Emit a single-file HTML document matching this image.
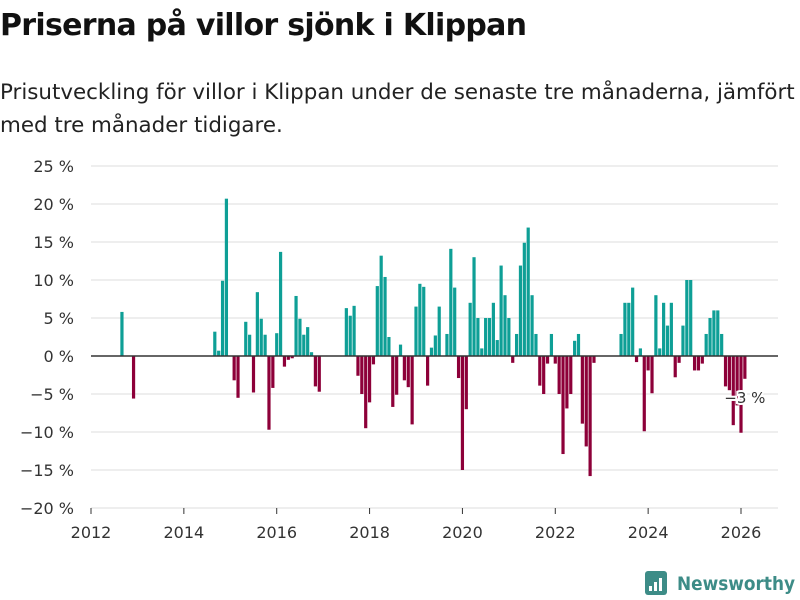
<!DOCTYPE html>
<html><head><meta charset="utf-8">
<style>
body{margin:0;background:#fff;font-family:"Liberation Sans","DejaVu Sans",sans-serif;}
#wrap{position:relative;width:800px;height:600px;overflow:hidden;background:#fff;}
h1{position:absolute;left:0;top:8px;margin:0;font-size:30px;font-weight:bold;color:#111;font-family:"DejaVu Sans","Liberation Sans",sans-serif;letter-spacing:-0.7px}
p.sub{position:absolute;left:0;top:76px;margin:0;font-size:21.4px;line-height:33px;color:#222;font-family:"DejaVu Sans","Liberation Sans",sans-serif;width:805px;letter-spacing:0px}
</style></head><body>
<div id="wrap">
<h1>Priserna på villor sjönk i Klippan</h1>
<p class="sub">Prisutveckling för villor i Klippan under de senaste tre månaderna, jämfört med tre månader tidigare.</p>
<svg id="chart" width="800" height="600" style="position:absolute;left:0;top:0"></svg>
</div>
<script>
const yTicks=[25,20,15,10,5,0,-5,-10,-15,-20];
const xTickYears=[2012,2014,2016,2018,2020,2022,2024,2026];
// monthly values, index 0 = Sep 2012 (null = no data)
const startIndex=8;
const values=[
5.8,null,null,-5.6,
null,null,null,null,null,null,null,null,null,null,null,null,null,null,null,null,null,null,null,null,
3.2,0.7,9.9,20.7,null,-3.2,-5.5,null,4.5,2.8,-4.8,8.4,4.9,2.8,-9.7,-4.2,3.0,13.7,-1.4,-0.5,-0.3,7.9,4.9,2.8,3.8,0.5,-4.0,-4.7,
null,null,null,null,null,null,
6.3,5.3,6.6,-2.6,-5.0,-9.5,-6.1,-1.1,9.2,13.2,10.4,2.5,-6.7,-5.1,1.5,-3.2,-4.1,-9.0,6.5,9.5,9.1,-3.9,1.1,2.7,6.5,null,2.9,14.1,9.0,-2.9,-15.0,-7.0,7.0,13.0,
5.0,1.0,5.0,5.0,7.0,2.1,11.9,8.0,5.0,-0.9,2.9,11.9,14.9,16.9,8.0,2.9,-3.9,-5.0,-1.0,2.9,-1.0,-5.0,-12.9,-6.9,-5.0,2.0,2.9,-8.9,-11.9,-15.8,-0.9,
null,null,null,null,null,null,
2.9,7.0,7.0,9.0,-0.8,1.0,-9.9,-1.9,-4.9,8.0,1.0,7.0,4.0,7.0,-2.8,-0.9,4.0,10.0,10.0,-1.9,-1.9,-1.0,2.9,5.0,6.0,6.0,2.9,-4.0,-4.5,-9.1,-6.5,-10.1,-3.0
];
const lastLabel="\u22123 %";

const NS="http://www.w3.org/2000/svg";
const svg=document.getElementById('chart');
const X0=91,X1=741,Y0=356,perPct=7.6;
function xScale(m){return X0+m*(X1-X0)/(14*12);}
function yScale(v){return Y0-v*perPct;}
function mk(t,a){const e=document.createElementNS(NS,t);for(const k in a)e.setAttribute(k,a[k]);svg.appendChild(e);return e;}

yTicks.forEach(v=>{
  const y=yScale(v);
  if(v!==0){const g=mk('line',{x1:X0,x2:778,y1:y,y2:y,stroke:'#dddddd','stroke-width':1});
  
  }
  const t=mk('text',{x:74,y:y+6,'text-anchor':'end','font-size':16,fill:'#333','font-family':'DejaVu Sans, Liberation Sans, sans-serif'});
  t.textContent=(v<0?'\u2212'+(-v):v)+' %';
  
  
});
xTickYears.forEach(yr=>{
  const x=xScale((yr-2012)*12);
  const tk=mk('line',{x1:x,x2:x,y1:508,y2:514,stroke:'#333','stroke-width':1});
  
  
  const t=mk('text',{x:x,y:538,'text-anchor':'middle','font-size':16,fill:'#333','font-family':'DejaVu Sans, Liberation Sans, sans-serif'});
  t.textContent=yr;
  
  
});
let lastI=-1;
values.forEach((v,i)=>{
  if(v===null)return;
  lastI=i;
  const x=xScale(startIndex+i);
  const y=yScale(Math.max(v,0)),h=Math.abs(v)*perPct;
  const r=mk('rect',{x:x-1.6,y:y,width:3.2,height:Math.max(h,0.5),fill:v>=0?'#0e9f96':'#8d0039'});
  
  
});
const zl=mk('line',{x1:X0,x2:778,y1:Y0,y2:Y0,stroke:'#333','stroke-width':1.5});


const lx=xScale(startIndex+lastI),ly=yScale(values[lastI]);
const lb=mk('text',{x:lx,y:ly+24,'text-anchor':'middle','font-size':15,fill:'#333',stroke:'#fff','stroke-width':4,'paint-order':'stroke','font-family':'DejaVu Sans, Liberation Sans, sans-serif'});
lb.textContent=lastLabel;



// logo
const lg=mk('rect',{x:645,y:571,width:22,height:24,rx:3,fill:'#3d8c87'});


[[649,586,3,5],[654,582,3,9],[659,578,3,13]].forEach(b=>{
  const r=mk('rect',{x:b[0],y:b[1],width:b[2],height:b[3],fill:'#fff'});
  
  
});
const lt=mk('text',{x:677,y:590,'font-size':19,'font-weight':'bold',fill:'#3d8c87',textLength:118,lengthAdjust:'spacingAndGlyphs','font-family':'DejaVu Sans, Liberation Sans, sans-serif'});
lt.textContent='Newsworthy';


</script>
</body></html>
